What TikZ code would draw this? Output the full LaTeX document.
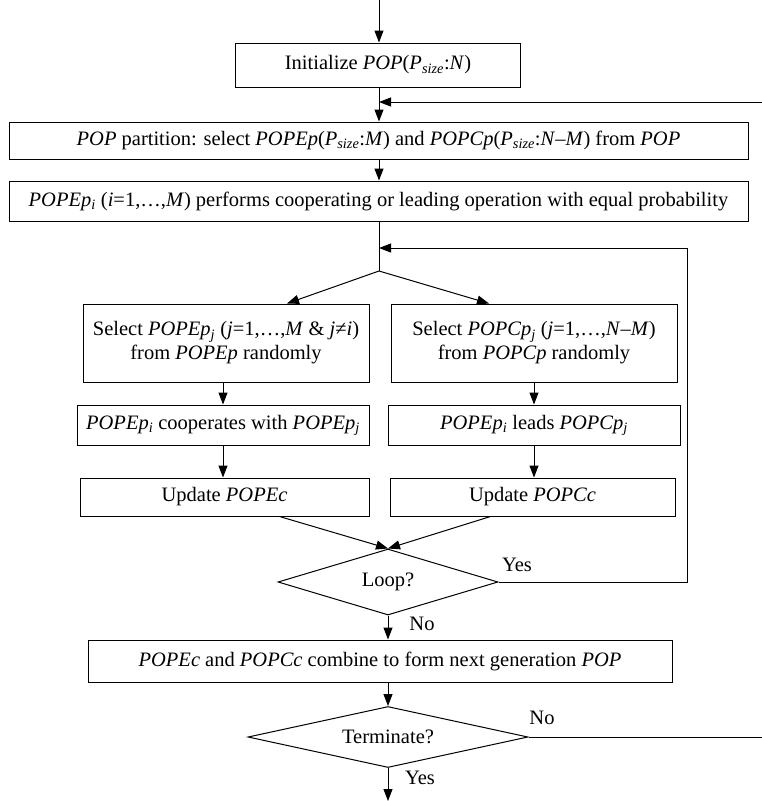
\documentclass[tikz,border=0pt]{standalone}
\usepackage{fontspec}
\setmainfont{Liberation Serif}
\usetikzlibrary{shapes.geometric,arrows.meta,calc}
\newcommand{\vv}[1]{\textit{#1}}
\newcommand{\isub}[1]{\textsubscript{\textit{#1}}}

\begin{document}
\begin{tikzpicture}[x=1pt,y=-1pt,line width=1pt,
    >={Triangle[length=12pt,width=9pt]},
    font=\fontsize{20.5}{24}\selectfont]
      \tikzset{stepbox/.style={draw,
          inner sep=0pt,
          align=center,
          minimum width=#1},
        choice/.style={draw,
          diamond,
          aspect=4,
          inner sep=0pt}
      }
      \useasboundingbox (0,0) rectangle (761,801);
      \coordinate (start) at (379,0);
      \node [stepbox=285,minimum height=44] (init) at (378,65) {Initialize \vv{POP}(\vv{P}\isub{size}:\vv{N})};
      \node [stepbox=739,minimum height=37] (part) at (378.5,140.5) {\vv{POP} partition: select \vv{POPEp}(\vv{P}\isub{size}:\vv{M}) and \vv{POPCp}(\vv{P}\isub{size}:\vv{N}–\vv{M}) from \vv{POP}};
      \node [stepbox=739,minimum height=40] (perf) at (378.5,201) {\vv{POPEp}\isub{i} (\vv{i}=1,…,\vv{M}) performs cooperating or leading operation with equal probability};
      \coordinate (split) at (379,271);
      \node [stepbox=286,minimum height=78] (selE) at (226,343) {Select \vv{POPEp}\isub{j} (\vv{j}=1,…,\vv{M} \& \vv{j}≠\vv{i})\\from \vv{POPEp} randomly};
      \node [stepbox=286,minimum height=78] (selC) at (534,343) {Select \vv{POPCp}\isub{j} (\vv{j}=1,…,\vv{N}–\vv{M})\\from \vv{POPCp} randomly};
      \node [stepbox=292,minimum height=40] (coop) at (223,425) {\vv{POPEp}\isub{i} cooperates with \vv{POPEp}\isub{j}};
      \node [stepbox=292,minimum height=40] (lead) at (534,425) {\vv{POPEp}\isub{i} leads \vv{POPCp}\isub{j}};
      \node [stepbox=289,minimum height=38] (updE) at (224.5,497) {Update \vv{POPEc}};
      \node [stepbox=285,minimum height=38] (updC) at (532.5,497) {Update \vv{POPCc}};
      \node [choice,minimum width=220,minimum height=66] (loop) at (388,582) {Loop?};
      \node [stepbox=584,minimum height=42] (comb) at (380,661) {\vv{POPEc} and \vv{POPCc} combine to form next generation \vv{POP}};
      \node [choice,minimum width=280,minimum height=61] (term) at (388,737) {Terminate?};
      \coordinate (finish) at (388,801);
      \coordinate (rejoin) at (379,102);
      \coordinate (inner) at (379,248);
      \coordinate (rside) at (687,248);
      \coordinate (far) at (772,102);
      \node (yes1) at (517,565) {Yes};
      \node (no1) at (422,624) {No};
      \node (no2) at (542,718) {No};
      \node (yes2) at (420,778) {Yes};
      \draw [->] (start)--(init.north -| start);
      \draw [->] (init.south -| rejoin)--(part.north -| rejoin);
      \draw [->] (part.south -| rejoin)--(perf.north -| rejoin);
      \draw (perf.south -| split)--(split);
      \draw [->] (split)--([xshift=61pt]selE.north);
      \draw [->] (split)--([xshift=-45pt]selC.north);
      \draw [->] (selE.south -| coop)--(coop);
      \draw [->] (coop)--(updE.north -| coop);
      \draw [->] (selC.south -| lead)--(lead);
      \draw [->] (lead)--(updC.north -| lead);
      \draw [->] ([xshift=55pt]updE.south)--(loop.north);
      \draw [->] ([xshift=-42pt]updC.south)--(loop.north);
      \draw [->] (loop.south)--(comb.north -| loop);
      \draw [->] (comb.south -| term)--(term);
      \draw [->] (term.south)--(finish);
      \draw [->] (loop.east)-|(rside)--(inner);
      \draw [->] (term.east)-|(far)--(rejoin);
    \end{tikzpicture}
\end{document}
